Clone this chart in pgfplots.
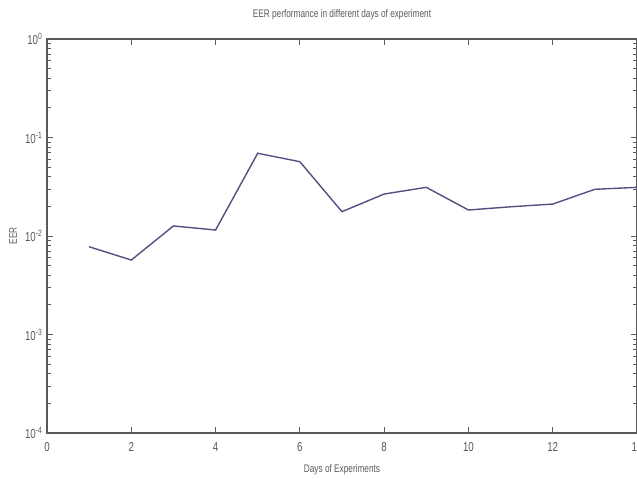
\documentclass[border=0pt]{standalone}
\usepackage{pgfplots}
\pgfplotsset{compat=1.18}
\usepackage{fontspec}
\setmainfont[FakeStretch=0.75]{Liberation Sans}
\definecolor{linec}{RGB}{80,80,130}
\definecolor{axc}{RGB}{90,90,90}
\begin{document}
\begin{tikzpicture}
\begin{axis}[
  name=ax,
  scale only axis,
  width=295pt, height=197pt,
  ymode=log,
  xmin=0, xmax=14, ymin=1e-4, ymax=1,
  xtick={0,2,4,6,8,10,12,14},
  xticklabels={0,2,4,6,8,10,12,14},
  ytick={1e-4,1e-3,1e-2,1e-1,1},
  yticklabels={10\textsuperscript{-4},10\textsuperscript{-3},10\textsuperscript{-2},10\textsuperscript{-1},10\textsuperscript{0}},
  tick align=inside,
  axis line style={axc, line width=0.6pt},
  tick style={axc, line width=0.4pt},
  major tick length=3pt, minor tick length=1.8pt,
  tick label style={font=\fontsize{6.5}{7}\selectfont, text=gray!70!black},
  xticklabel style={yshift=-1pt},
  yticklabel style={xshift=1.5pt},
  title={EER performance in different days of experiment},
  title style={font=\fontsize{5.5}{6}\selectfont, text=gray!70!black},
  xlabel={Days of Experiments},
  ylabel={EER},
  xlabel style={font=\fontsize{5.5}{6}\selectfont, text=gray!70!black},
  ylabel style={font=\fontsize{5.5}{6}\selectfont, text=gray!70!black,
    at={(axis description cs:0,0.5)}, anchor=center, yshift=17pt},
]
\addplot[linec, line width=0.7pt] coordinates {
(1,0.00778) (2,0.0057) (3,0.01265) (4,0.0115) (5,0.0692) (6,0.0568)
(7,0.01766) (8,0.02667) (9,0.0312) (10,0.01837) (11,0.0198) (12,0.0211)
(13,0.0298) (14,0.0312)
};
\end{axis}
\pgfresetboundingbox
\path[use as bounding box] ([xshift=-23.5pt,yshift=-23pt]ax.south west) rectangle ([yshift=19.5pt]ax.north east);
\end{tikzpicture}
\end{document}
